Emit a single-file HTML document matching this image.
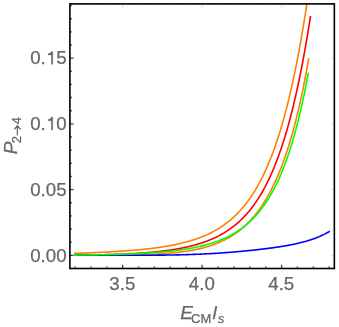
<!DOCTYPE html>
<html><head><meta charset="utf-8"><title>plot</title>
<style>html,body{margin:0;padding:0;background:#fff;}body{width:339px;height:327px;overflow:hidden;position:relative;font-family:"Liberation Sans",sans-serif;}</style>
</head><body>
<svg width="339" height="327" viewBox="0 0 339 327" style="position:absolute;left:0;top:0;will-change:transform">
<rect width="339" height="327" fill="#fff"/>
<path d="M74.10,253.38 L75.10,253.34 L76.10,253.31 L77.10,253.28 L78.10,253.24 L79.10,253.21 L80.10,253.17 L81.10,253.14 L82.10,253.10 L83.10,253.06 L84.10,253.03 L85.10,252.99 L86.10,252.95 L87.10,252.91 L88.10,252.87 L89.10,252.83 L90.10,252.79 L91.10,252.75 L92.10,252.71 L93.10,252.67 L94.10,252.62 L95.10,252.58 L96.10,252.53 L97.10,252.49 L98.10,252.44 L99.10,252.40 L100.10,252.35 L101.10,252.30 L102.10,252.25 L103.10,252.20 L104.10,252.15 L105.10,252.10 L106.10,252.05 L107.10,252.00 L108.10,251.95 L109.10,251.89 L110.10,251.84 L111.10,251.78 L112.10,251.72 L113.10,251.67 L114.10,251.61 L115.10,251.55 L116.10,251.49 L117.10,251.42 L118.10,251.36 L119.10,251.30 L120.10,251.23 L121.10,251.16 L122.10,251.10 L123.10,251.03 L124.10,250.96 L125.10,250.88 L126.10,250.81 L127.10,250.74 L128.10,250.66 L129.10,250.58 L130.10,250.51 L131.10,250.43 L132.10,250.34 L133.10,250.26 L134.10,250.18 L135.10,250.09 L136.10,250.00 L137.10,249.91 L138.10,249.82 L139.10,249.73 L140.10,249.63 L141.10,249.53 L142.10,249.44 L143.10,249.33 L144.10,249.23 L145.10,249.12 L146.10,249.02 L147.10,248.91 L148.10,248.79 L149.10,248.68 L150.10,248.56 L151.10,248.44 L152.10,248.32 L153.10,248.20 L154.10,248.07 L155.10,247.94 L156.10,247.81 L157.10,247.67 L158.10,247.53 L159.10,247.39 L160.10,247.24 L161.10,247.10 L162.10,246.94 L163.10,246.79 L164.10,246.63 L165.10,246.47 L166.10,246.30 L167.10,246.13 L168.10,245.96 L169.10,245.78 L170.10,245.60 L171.10,245.41 L172.10,245.22 L173.10,245.03 L174.10,244.83 L175.10,244.62 L176.10,244.42 L177.10,244.20 L178.10,243.98 L179.10,243.76 L180.10,243.53 L181.10,243.29 L182.10,243.05 L183.10,242.81 L184.10,242.55 L185.10,242.29 L186.10,242.03 L187.10,241.76 L188.10,241.48 L189.10,241.19 L190.10,240.90 L191.10,240.60 L192.10,240.29 L193.10,239.98 L194.10,239.65 L195.10,239.32 L196.10,238.98 L197.10,238.64 L198.10,238.28 L199.10,237.91 L200.10,237.54 L201.10,237.15 L202.10,236.76 L203.10,236.35 L204.10,235.94 L205.10,235.51 L206.10,235.07 L207.10,234.62 L208.10,234.16 L209.10,233.69 L210.10,233.20 L211.10,232.71 L212.10,232.19 L213.10,231.67 L214.10,231.13 L215.10,230.58 L216.10,230.01 L217.10,229.43 L218.10,228.83 L219.10,228.22 L220.10,227.59 L221.10,226.94 L222.10,226.27 L223.10,225.59 L224.10,224.89 L225.10,224.17 L226.10,223.43 L227.10,222.67 L228.10,221.89 L229.10,221.09 L230.10,220.26 L231.10,219.42 L232.10,218.55 L233.10,217.66 L234.10,216.74 L235.10,215.80 L236.10,214.83 L237.10,213.83 L238.10,212.81 L239.10,211.76 L240.10,210.68 L241.10,209.57 L242.10,208.43 L243.10,207.26 L244.10,206.05 L245.10,204.81 L246.10,203.54 L247.10,202.24 L248.10,200.89 L249.10,199.51 L250.10,198.09 L251.10,196.63 L252.10,195.13 L253.10,193.59 L254.10,192.01 L255.10,190.38 L256.10,188.71 L257.10,186.99 L258.10,185.22 L259.10,183.40 L260.10,181.53 L261.10,179.61 L262.10,177.64 L263.10,175.61 L264.10,173.53 L265.10,171.39 L266.10,169.18 L267.10,166.92 L268.10,164.59 L269.10,162.20 L270.10,159.75 L271.10,157.22 L272.10,154.63 L273.10,151.96 L274.10,149.22 L275.10,146.40 L276.10,143.51 L277.10,140.54 L278.10,137.48 L279.10,134.34 L280.10,131.12 L281.10,127.80 L282.10,124.40 L283.10,120.90 L284.10,117.31 L285.10,113.62 L286.10,109.83 L287.10,105.94 L288.10,101.95 L289.10,97.84 L290.10,93.63 L291.10,89.30 L292.10,84.86 L293.10,80.30 L294.10,75.62 L295.10,70.81 L296.10,65.88 L297.10,60.81 L298.10,55.62 L299.10,50.29 L300.10,44.82 L301.10,39.21 L302.10,33.45 L303.10,27.54 L304.10,21.49 L305.10,15.28 L306.10,8.91 L306.87,3.90" fill="none" stroke="#ff8000" stroke-width="1.6" stroke-linejoin="round"/>
<path d="M74.10,255.16 L75.10,255.15 L76.10,255.15 L77.10,255.14 L78.10,255.13 L79.10,255.12 L80.10,255.11 L81.10,255.10 L82.10,255.09 L83.10,255.08 L84.10,255.07 L85.10,255.06 L86.10,255.04 L87.10,255.03 L88.10,255.02 L89.10,255.00 L90.10,254.99 L91.10,254.97 L92.10,254.96 L93.10,254.94 L94.10,254.93 L95.10,254.91 L96.10,254.89 L97.10,254.87 L98.10,254.85 L99.10,254.83 L100.10,254.81 L101.10,254.79 L102.10,254.77 L103.10,254.75 L104.10,254.72 L105.10,254.70 L106.10,254.67 L107.10,254.65 L108.10,254.62 L109.10,254.59 L110.10,254.56 L111.10,254.54 L112.10,254.50 L113.10,254.47 L114.10,254.44 L115.10,254.41 L116.10,254.37 L117.10,254.34 L118.10,254.30 L119.10,254.26 L120.10,254.22 L121.10,254.18 L122.10,254.14 L123.10,254.10 L124.10,254.06 L125.10,254.01 L126.10,253.97 L127.10,253.92 L128.10,253.87 L129.10,253.82 L130.10,253.77 L131.10,253.72 L132.10,253.66 L133.10,253.61 L134.10,253.55 L135.10,253.49 L136.10,253.43 L137.10,253.37 L138.10,253.30 L139.10,253.24 L140.10,253.17 L141.10,253.10 L142.10,253.03 L143.10,252.96 L144.10,252.88 L145.10,252.80 L146.10,252.72 L147.10,252.64 L148.10,252.56 L149.10,252.48 L150.10,252.39 L151.10,252.30 L152.10,252.21 L153.10,252.11 L154.10,252.01 L155.10,251.91 L156.10,251.81 L157.10,251.71 L158.10,251.60 L159.10,251.49 L160.10,251.38 L161.10,251.26 L162.10,251.14 L163.10,251.02 L164.10,250.90 L165.10,250.77 L166.10,250.64 L167.10,250.50 L168.10,250.37 L169.10,250.22 L170.10,250.08 L171.10,249.93 L172.10,249.78 L173.10,249.62 L174.10,249.46 L175.10,249.30 L176.10,249.13 L177.10,248.95 L178.10,248.78 L179.10,248.59 L180.10,248.41 L181.10,248.21 L182.10,248.02 L183.10,247.82 L184.10,247.61 L185.10,247.40 L186.10,247.18 L187.10,246.96 L188.10,246.73 L189.10,246.49 L190.10,246.25 L191.10,246.00 L192.10,245.75 L193.10,245.49 L194.10,245.22 L195.10,244.95 L196.10,244.67 L197.10,244.38 L198.10,244.08 L199.10,243.78 L200.10,243.46 L201.10,243.14 L202.10,242.81 L203.10,242.47 L204.10,242.13 L205.10,241.77 L206.10,241.40 L207.10,241.03 L208.10,240.64 L209.10,240.25 L210.10,239.84 L211.10,239.42 L212.10,238.99 L213.10,238.55 L214.10,238.10 L215.10,237.63 L216.10,237.16 L217.10,236.67 L218.10,236.16 L219.10,235.64 L220.10,235.11 L221.10,234.56 L222.10,234.00 L223.10,233.42 L224.10,232.83 L225.10,232.22 L226.10,231.59 L227.10,230.95 L228.10,230.29 L229.10,229.61 L230.10,228.91 L231.10,228.19 L232.10,227.45 L233.10,226.69 L234.10,225.91 L235.10,225.10 L236.10,224.28 L237.10,223.43 L238.10,222.56 L239.10,221.66 L240.10,220.74 L241.10,219.79 L242.10,218.81 L243.10,217.81 L244.10,216.78 L245.10,215.71 L246.10,214.62 L247.10,213.50 L248.10,212.35 L249.10,211.16 L250.10,209.94 L251.10,208.68 L252.10,207.39 L253.10,206.06 L254.10,204.70 L255.10,203.29 L256.10,201.84 L257.10,200.36 L258.10,198.83 L259.10,197.25 L260.10,195.64 L261.10,193.97 L262.10,192.26 L263.10,190.50 L264.10,188.69 L265.10,186.83 L266.10,184.91 L267.10,182.94 L268.10,180.91 L269.10,178.83 L270.10,176.68 L271.10,174.48 L272.10,172.21 L273.10,169.88 L274.10,167.48 L275.10,165.01 L276.10,162.48 L277.10,159.87 L278.10,157.19 L279.10,154.43 L280.10,151.60 L281.10,148.68 L282.10,145.69 L283.10,142.61 L284.10,139.44 L285.10,136.19 L286.10,132.84 L287.10,129.41 L288.10,125.87 L289.10,122.24 L290.10,118.51 L291.10,114.68 L292.10,110.74 L293.10,106.70 L294.10,102.54 L295.10,98.27 L296.10,93.89 L297.10,89.39 L298.10,84.76 L299.10,80.02 L300.10,75.14 L301.10,70.14 L302.10,65.01 L303.10,59.74 L304.10,54.33 L305.10,48.78 L306.10,43.09 L307.10,37.25 L308.10,31.26 L309.10,25.12 L310.10,18.82 L310.55,15.94" fill="none" stroke="#ff0000" stroke-width="1.6" stroke-linejoin="round"/>
<path d="M74.10,255.27 L75.10,255.27 L76.10,255.27 L77.10,255.27 L78.10,255.26 L79.10,255.26 L80.10,255.26 L81.10,255.26 L82.10,255.26 L83.10,255.25 L84.10,255.25 L85.10,255.25 L86.10,255.25 L87.10,255.24 L88.10,255.24 L89.10,255.24 L90.10,255.23 L91.10,255.23 L92.10,255.23 L93.10,255.22 L94.10,255.22 L95.10,255.22 L96.10,255.21 L97.10,255.21 L98.10,255.20 L99.10,255.20 L100.10,255.19 L101.10,255.19 L102.10,255.18 L103.10,255.18 L104.10,255.17 L105.10,255.17 L106.10,255.16 L107.10,255.15 L108.10,255.15 L109.10,255.14 L110.10,255.13 L111.10,255.12 L112.10,255.11 L113.10,255.11 L114.10,255.10 L115.10,255.09 L116.10,255.08 L117.10,255.07 L118.10,255.06 L119.10,255.05 L120.10,255.03 L121.10,255.02 L122.10,255.01 L123.10,255.00 L124.10,254.98 L125.10,254.97 L126.10,254.95 L127.10,254.94 L128.10,254.92 L129.10,254.90 L130.10,254.88 L131.10,254.87 L132.10,254.85 L133.10,254.83 L134.10,254.80 L135.10,254.78 L136.10,254.76 L137.10,254.74 L138.10,254.71 L139.10,254.69 L140.10,254.66 L141.10,254.63 L142.10,254.60 L143.10,254.57 L144.10,254.54 L145.10,254.51 L146.10,254.47 L147.10,254.44 L148.10,254.40 L149.10,254.36 L150.10,254.32 L151.10,254.28 L152.10,254.24 L153.10,254.19 L154.10,254.15 L155.10,254.10 L156.10,254.05 L157.10,254.00 L158.10,253.94 L159.10,253.89 L160.10,253.83 L161.10,253.77 L162.10,253.71 L163.10,253.64 L164.10,253.57 L165.10,253.50 L166.10,253.43 L167.10,253.36 L168.10,253.28 L169.10,253.20 L170.10,253.11 L171.10,253.03 L172.10,252.94 L173.10,252.84 L174.10,252.75 L175.10,252.65 L176.10,252.54 L177.10,252.44 L178.10,252.33 L179.10,252.21 L180.10,252.09 L181.10,251.97 L182.10,251.84 L183.10,251.71 L184.10,251.57 L185.10,251.43 L186.10,251.28 L187.10,251.13 L188.10,250.98 L189.10,250.81 L190.10,250.65 L191.10,250.47 L192.10,250.29 L193.10,250.11 L194.10,249.92 L195.10,249.72 L196.10,249.52 L197.10,249.31 L198.10,249.09 L199.10,248.86 L200.10,248.63 L201.10,248.39 L202.10,248.14 L203.10,247.88 L204.10,247.62 L205.10,247.35 L206.10,247.07 L207.10,246.77 L208.10,246.47 L209.10,246.16 L210.10,245.84 L211.10,245.52 L212.10,245.17 L213.10,244.82 L214.10,244.46 L215.10,244.09 L216.10,243.70 L217.10,243.31 L218.10,242.90 L219.10,242.48 L220.10,242.04 L221.10,241.59 L222.10,241.13 L223.10,240.65 L224.10,240.16 L225.10,239.66 L226.10,239.14 L227.10,238.60 L228.10,238.04 L229.10,237.47 L230.10,236.89 L231.10,236.28 L232.10,235.66 L233.10,235.02 L234.10,234.36 L235.10,233.68 L236.10,232.98 L237.10,232.26 L238.10,231.51 L239.10,230.75 L240.10,229.96 L241.10,229.15 L242.10,228.32 L243.10,227.46 L244.10,226.57 L245.10,225.67 L246.10,224.73 L247.10,223.77 L248.10,222.77 L249.10,221.75 L250.10,220.70 L251.10,219.62 L252.10,218.51 L253.10,217.37 L254.10,216.19 L255.10,214.98 L256.10,213.74 L257.10,212.45 L258.10,211.14 L259.10,209.78 L260.10,208.38 L261.10,206.95 L262.10,205.47 L263.10,203.95 L264.10,202.39 L265.10,200.78 L266.10,199.12 L267.10,197.42 L268.10,195.67 L269.10,193.87 L270.10,192.01 L271.10,190.11 L272.10,188.15 L273.10,186.13 L274.10,184.05 L275.10,181.92 L276.10,179.72 L277.10,177.46 L278.10,175.13 L279.10,172.73 L280.10,170.27 L281.10,167.74 L282.10,165.13 L283.10,162.44 L284.10,159.68 L285.10,156.84 L286.10,153.91 L287.10,150.90 L288.10,147.80 L289.10,144.61 L290.10,141.32 L291.10,137.94 L292.10,134.46 L293.10,130.87 L294.10,127.18 L295.10,123.38 L296.10,119.46 L297.10,115.43 L298.10,111.28 L299.10,107.00 L300.10,102.60 L301.10,98.06 L302.10,93.38 L303.10,88.57 L304.10,83.60 L305.10,78.49 L306.10,73.21 L307.10,67.78 L308.10,62.18 L308.80,58.15" fill="none" stroke="#ff8000" stroke-width="1.6" stroke-linejoin="round"/>
<path d="M74.10,255.30 L75.10,255.30 L76.10,255.30 L77.10,255.30 L78.10,255.30 L79.10,255.30 L80.10,255.30 L81.10,255.30 L82.10,255.30 L83.10,255.30 L84.10,255.30 L85.10,255.30 L86.10,255.30 L87.10,255.30 L88.10,255.30 L89.10,255.30 L90.10,255.30 L91.10,255.30 L92.10,255.30 L93.10,255.30 L94.10,255.30 L95.10,255.30 L96.10,255.30 L97.10,255.30 L98.10,255.30 L99.10,255.30 L100.10,255.30 L101.10,255.30 L102.10,255.30 L103.10,255.30 L104.10,255.30 L105.10,255.30 L106.10,255.30 L107.10,255.30 L108.10,255.30 L109.10,255.30 L110.10,255.30 L111.10,255.30 L112.10,255.30 L113.10,255.30 L114.10,255.30 L115.10,255.30 L116.10,255.30 L117.10,255.30 L118.10,255.29 L119.10,255.29 L120.10,255.29 L121.10,255.29 L122.10,255.29 L123.10,255.29 L124.10,255.29 L125.10,255.29 L126.10,255.29 L127.10,255.29 L128.10,255.29 L129.10,255.29 L130.10,255.28 L131.10,255.28 L132.10,255.28 L133.10,255.28 L134.10,255.28 L135.10,255.28 L136.10,255.27 L137.10,255.27 L138.10,255.27 L139.10,255.27 L140.10,255.26 L141.10,255.26 L142.10,255.26 L143.10,255.25 L144.10,255.25 L145.10,255.24 L146.10,255.24 L147.10,255.24 L148.10,255.23 L149.10,255.23 L150.10,255.22 L151.10,255.21 L152.10,255.21 L153.10,255.20 L154.10,255.19 L155.10,255.19 L156.10,255.18 L157.10,255.17 L158.10,255.16 L159.10,255.15 L160.10,255.14 L161.10,255.13 L162.10,255.12 L163.10,255.11 L164.10,255.10 L165.10,255.09 L166.10,255.07 L167.10,255.06 L168.10,255.05 L169.10,255.03 L170.10,255.01 L171.10,255.00 L172.10,254.98 L173.10,254.96 L174.10,254.94 L175.10,254.93 L176.10,254.91 L177.10,254.88 L178.10,254.86 L179.10,254.84 L180.10,254.82 L181.10,254.79 L182.10,254.77 L183.10,254.74 L184.10,254.71 L185.10,254.68 L186.10,254.66 L187.10,254.62 L188.10,254.59 L189.10,254.56 L190.10,254.53 L191.10,254.49 L192.10,254.46 L193.10,254.42 L194.10,254.38 L195.10,254.35 L196.10,254.31 L197.10,254.27 L198.10,254.22 L199.10,254.18 L200.10,254.14 L201.10,254.09 L202.10,254.05 L203.10,254.00 L204.10,253.95 L205.10,253.90 L206.10,253.85 L207.10,253.80 L208.10,253.74 L209.10,253.69 L210.10,253.63 L211.10,253.58 L212.10,253.52 L213.10,253.46 L214.10,253.40 L215.10,253.34 L216.10,253.28 L217.10,253.21 L218.10,253.15 L219.10,253.08 L220.10,253.01 L221.10,252.94 L222.10,252.88 L223.10,252.80 L224.10,252.73 L225.10,252.66 L226.10,252.59 L227.10,252.51 L228.10,252.43 L229.10,252.36 L230.10,252.28 L231.10,252.20 L232.10,252.12 L233.10,252.04 L234.10,251.95 L235.10,251.87 L236.10,251.78 L237.10,251.70 L238.10,251.61 L239.10,251.52 L240.10,251.43 L241.10,251.34 L242.10,251.25 L243.10,251.16 L244.10,251.06 L245.10,250.97 L246.10,250.87 L247.10,250.77 L248.10,250.67 L249.10,250.57 L250.10,250.47 L251.10,250.37 L252.10,250.26 L253.10,250.16 L254.10,250.05 L255.10,249.95 L256.10,249.84 L257.10,249.73 L258.10,249.61 L259.10,249.50 L260.10,249.39 L261.10,249.27 L262.10,249.15 L263.10,249.03 L264.10,248.91 L265.10,248.79 L266.10,248.66 L267.10,248.54 L268.10,248.41 L269.10,248.28 L270.10,248.15 L271.10,248.01 L272.10,247.88 L273.10,247.74 L274.10,247.60 L275.10,247.45 L276.10,247.31 L277.10,247.16 L278.10,247.01 L279.10,246.86 L280.10,246.70 L281.10,246.54 L282.10,246.38 L283.10,246.22 L284.10,246.05 L285.10,245.88 L286.10,245.71 L287.10,245.53 L288.10,245.35 L289.10,245.16 L290.10,244.97 L291.10,244.78 L292.10,244.58 L293.10,244.38 L294.10,244.17 L295.10,243.96 L296.10,243.74 L297.10,243.52 L298.10,243.29 L299.10,243.06 L300.10,242.82 L301.10,242.57 L302.10,242.32 L303.10,242.06 L304.10,241.79 L305.10,241.52 L306.10,241.24 L307.10,240.95 L308.10,240.65 L309.10,240.34 L310.10,240.02 L311.10,239.70 L312.10,239.36 L313.10,239.02 L314.10,238.66 L315.10,238.29 L316.10,237.91 L317.10,237.52 L318.10,237.11 L319.10,236.70 L320.10,236.26 L321.10,235.81 L322.10,235.35 L323.10,234.87 L324.10,234.37 L325.10,233.86 L326.10,233.32 L327.10,232.77 L328.10,232.19 L329.10,231.60 L329.80,231.17" fill="none" stroke="#0000ff" stroke-width="1.6" stroke-linejoin="round"/>
<path d="M74.10,255.11 L75.10,255.10 L76.10,255.09 L77.10,255.08 L78.10,255.07 L79.10,255.06 L80.10,255.05 L81.10,255.04 L82.10,255.03 L83.10,255.02 L84.10,255.01 L85.10,255.00 L86.10,254.99 L87.10,254.97 L88.10,254.96 L89.10,254.95 L90.10,254.93 L91.10,254.92 L92.10,254.91 L93.10,254.89 L94.10,254.88 L95.10,254.86 L96.10,254.84 L97.10,254.83 L98.10,254.81 L99.10,254.79 L100.10,254.78 L101.10,254.76 L102.10,254.74 L103.10,254.72 L104.10,254.70 L105.10,254.68 L106.10,254.66 L107.10,254.64 L108.10,254.61 L109.10,254.59 L110.10,254.57 L111.10,254.54 L112.10,254.52 L113.10,254.49 L114.10,254.47 L115.10,254.44 L116.10,254.41 L117.10,254.38 L118.10,254.35 L119.10,254.32 L120.10,254.29 L121.10,254.26 L122.10,254.23 L123.10,254.20 L124.10,254.16 L125.10,254.13 L126.10,254.09 L127.10,254.05 L128.10,254.02 L129.10,253.98 L130.10,253.94 L131.10,253.90 L132.10,253.86 L133.10,253.81 L134.10,253.77 L135.10,253.72 L136.10,253.68 L137.10,253.63 L138.10,253.58 L139.10,253.53 L140.10,253.48 L141.10,253.43 L142.10,253.38 L143.10,253.32 L144.10,253.27 L145.10,253.21 L146.10,253.15 L147.10,253.09 L148.10,253.03 L149.10,252.96 L150.10,252.90 L151.10,252.83 L152.10,252.77 L153.10,252.70 L154.10,252.62 L155.10,252.55 L156.10,252.47 L157.10,252.40 L158.10,252.32 L159.10,252.24 L160.10,252.15 L161.10,252.07 L162.10,251.98 L163.10,251.89 L164.10,251.80 L165.10,251.71 L166.10,251.61 L167.10,251.51 L168.10,251.41 L169.10,251.31 L170.10,251.20 L171.10,251.09 L172.10,250.98 L173.10,250.87 L174.10,250.75 L175.10,250.63 L176.10,250.51 L177.10,250.38 L178.10,250.25 L179.10,250.12 L180.10,249.98 L181.10,249.84 L182.10,249.70 L183.10,249.55 L184.10,249.40 L185.10,249.24 L186.10,249.08 L187.10,248.92 L188.10,248.75 L189.10,248.58 L190.10,248.40 L191.10,248.22 L192.10,248.04 L193.10,247.85 L194.10,247.65 L195.10,247.45 L196.10,247.25 L197.10,247.03 L198.10,246.82 L199.10,246.59 L200.10,246.37 L201.10,246.13 L202.10,245.89 L203.10,245.64 L204.10,245.39 L205.10,245.13 L206.10,244.86 L207.10,244.58 L208.10,244.30 L209.10,244.01 L210.10,243.71 L211.10,243.40 L212.10,243.09 L213.10,242.76 L214.10,242.43 L215.10,242.09 L216.10,241.74 L217.10,241.38 L218.10,241.01 L219.10,240.62 L220.10,240.23 L221.10,239.83 L222.10,239.41 L223.10,238.99 L224.10,238.55 L225.10,238.10 L226.10,237.64 L227.10,237.16 L228.10,236.67 L229.10,236.17 L230.10,235.65 L231.10,235.11 L232.10,234.56 L233.10,234.00 L234.10,233.42 L235.10,232.82 L236.10,232.21 L237.10,231.58 L238.10,230.92 L239.10,230.25 L240.10,229.57 L241.10,228.86 L242.10,228.13 L243.10,227.37 L244.10,226.60 L245.10,225.80 L246.10,224.98 L247.10,224.14 L248.10,223.27 L249.10,222.37 L250.10,221.45 L251.10,220.50 L252.10,219.53 L253.10,218.52 L254.10,217.48 L255.10,216.41 L256.10,215.31 L257.10,214.18 L258.10,213.01 L259.10,211.81 L260.10,210.57 L261.10,209.30 L262.10,207.98 L263.10,206.63 L264.10,205.23 L265.10,203.79 L266.10,202.31 L267.10,200.78 L268.10,199.21 L269.10,197.58 L270.10,195.91 L271.10,194.19 L272.10,192.41 L273.10,190.58 L274.10,188.69 L275.10,186.75 L276.10,184.74 L277.10,182.68 L278.10,180.55 L279.10,178.35 L280.10,176.08 L281.10,173.75 L282.10,171.34 L283.10,168.86 L284.10,166.30 L285.10,163.66 L286.10,160.94 L287.10,158.14 L288.10,155.25 L289.10,152.26 L290.10,149.19 L291.10,146.02 L292.10,142.75 L293.10,139.38 L294.10,135.90 L295.10,132.32 L296.10,128.62 L297.10,124.81 L298.10,120.88 L299.10,116.83 L300.10,112.65 L301.10,108.34 L302.10,103.89 L303.10,99.31 L304.10,94.59 L305.10,89.71 L306.10,84.69 L307.10,79.51 L308.10,74.17 L308.40,72.53" fill="none" stroke="#00ff00" stroke-width="1.6" stroke-linejoin="round"/>
<path d="M122.66,3.90V7.60M202.11,3.90V7.60M281.56,3.90V7.60M334.35,255.30H330.65M334.35,189.57H330.65M334.35,123.85H330.65M334.35,58.13H330.65" fill="none" stroke="#e4e4e4" stroke-width="1"/>
<path d="M74.99,3.90V6.10M90.88,3.90V6.10M106.77,3.90V6.10M138.55,3.90V6.10M154.44,3.90V6.10M170.33,3.90V6.10M186.22,3.90V6.10M218.00,3.90V6.10M233.89,3.90V6.10M249.78,3.90V6.10M265.67,3.90V6.10M297.45,3.90V6.10M313.34,3.90V6.10M329.23,3.90V6.10M334.35,242.16H332.15M334.35,229.01H332.15M334.35,215.87H332.15M334.35,202.72H332.15M334.35,176.43H332.15M334.35,163.28H332.15M334.35,150.14H332.15M334.35,137.00H332.15M334.35,110.71H332.15M334.35,97.56H332.15M334.35,84.41H332.15M334.35,71.27H332.15M334.35,44.98H332.15M334.35,31.84H332.15M334.35,18.69H332.15M334.35,5.55H332.15" fill="none" stroke="#f0f0f0" stroke-width="1"/>
<path d="M122.66,268.50V264.80M202.11,268.50V264.80M281.56,268.50V264.80M69.90,255.30H73.60M69.90,189.57H73.60M69.90,123.85H73.60M69.90,58.13H73.60" fill="none" stroke="#444" stroke-width="1.3"/>
<path d="M74.99,268.50V266.30M90.88,268.50V266.30M106.77,268.50V266.30M138.55,268.50V266.30M154.44,268.50V266.30M170.33,268.50V266.30M186.22,268.50V266.30M218.00,268.50V266.30M233.89,268.50V266.30M249.78,268.50V266.30M265.67,268.50V266.30M297.45,268.50V266.30M313.34,268.50V266.30M329.23,268.50V266.30M69.90,242.16H72.10M69.90,229.01H72.10M69.90,215.87H72.10M69.90,202.72H72.10M69.90,176.43H72.10M69.90,163.28H72.10M69.90,150.14H72.10M69.90,137.00H72.10M69.90,110.71H72.10M69.90,97.56H72.10M69.90,84.41H72.10M69.90,71.27H72.10M69.90,44.98H72.10M69.90,31.84H72.10M69.90,18.69H72.10M69.90,5.55H72.10" fill="none" stroke="#6a6a6a" stroke-width="1.4"/>
<rect x="69.90" y="3.90" width="264.45" height="264.60" fill="none" stroke="#000" stroke-width="1.6"/>
<text x="122.36" y="289.6" text-anchor="middle" style="font-family:'Liberation Sans',sans-serif;fill:#666;stroke:#666;stroke-width:0.25px;font-size:18.7px">3.5</text>
<text x="201.81" y="289.6" text-anchor="middle" style="font-family:'Liberation Sans',sans-serif;fill:#666;stroke:#666;stroke-width:0.25px;font-size:18.7px">4.0</text>
<text x="281.26" y="289.6" text-anchor="middle" style="font-family:'Liberation Sans',sans-serif;fill:#666;stroke:#666;stroke-width:0.25px;font-size:18.7px">4.5</text>
<text x="66.6" y="261.50" text-anchor="end" style="font-family:'Liberation Sans',sans-serif;fill:#666;stroke:#666;stroke-width:0.25px;font-size:18.7px">0.00</text>
<text x="66.6" y="195.77" text-anchor="end" style="font-family:'Liberation Sans',sans-serif;fill:#666;stroke:#666;stroke-width:0.25px;font-size:18.7px">0.05</text>
<text x="45.8" y="130.05" text-anchor="end" style="font-family:'Liberation Sans',sans-serif;fill:#666;stroke:#666;stroke-width:0.25px;font-size:18.7px">0.</text>
<text x="66.6" y="130.05" text-anchor="end" style="font-family:'Liberation Sans',sans-serif;fill:#666;stroke:#666;stroke-width:0.25px;font-size:18.7px">0</text>
<path d="M52.8,117.10V130.05H51.3V120.65H48.0V119.40Q50.9,119.20 51.55,117.10Z" fill="#666" stroke="#666" stroke-width="0.25"/>
<text x="45.8" y="64.33" text-anchor="end" style="font-family:'Liberation Sans',sans-serif;fill:#666;stroke:#666;stroke-width:0.25px;font-size:18.7px">0.</text>
<text x="66.6" y="64.33" text-anchor="end" style="font-family:'Liberation Sans',sans-serif;fill:#666;stroke:#666;stroke-width:0.25px;font-size:18.7px">5</text>
<path d="M52.8,51.38V64.33H51.3V54.93H48.0V53.68Q50.9,53.48 51.55,51.38Z" fill="#666" stroke="#666" stroke-width="0.25"/>
<text x="180.20" y="318.50" style="font-family:'Liberation Sans',sans-serif;fill:#666;stroke:#666;stroke-width:0.25px;font-size:19px;font-style:italic">E</text><text x="191.10" y="323.10" style="font-family:'Liberation Sans',sans-serif;fill:#666;stroke:#666;stroke-width:0.25px;font-size:13px">CM</text><text x="212.60" y="318.50" style="font-family:'Liberation Sans',sans-serif;fill:#666;stroke:#666;stroke-width:0.25px;font-size:19px;font-style:italic">l</text><text x="217.80" y="323.10" style="font-family:'Liberation Sans',sans-serif;fill:#666;stroke:#666;stroke-width:0.25px;font-size:13px;font-style:italic">s</text>
<g transform="rotate(-90)"><text x="-154.30" y="17.40" style="font-family:'Liberation Sans',sans-serif;fill:#666;stroke:#666;stroke-width:0.25px;font-size:19px;font-style:italic">P</text><text x="-143.30" y="20.60" style="font-family:'Liberation Sans',sans-serif;fill:#666;stroke:#666;stroke-width:0.25px;font-size:13px">2</text><text x="-124.30" y="20.60" style="font-family:'Liberation Sans',sans-serif;fill:#666;stroke:#666;stroke-width:0.25px;font-size:13px">4</text></g>
<path d="M17.35,135.5V125.9M14.2,129.3Q16.2,127.6 17.35,125.6Q18.5,127.6 20.6,129.3" fill="none" stroke="#606060" stroke-width="1.15" stroke-linecap="butt" stroke-linejoin="miter"/>
</svg>
</body></html>
